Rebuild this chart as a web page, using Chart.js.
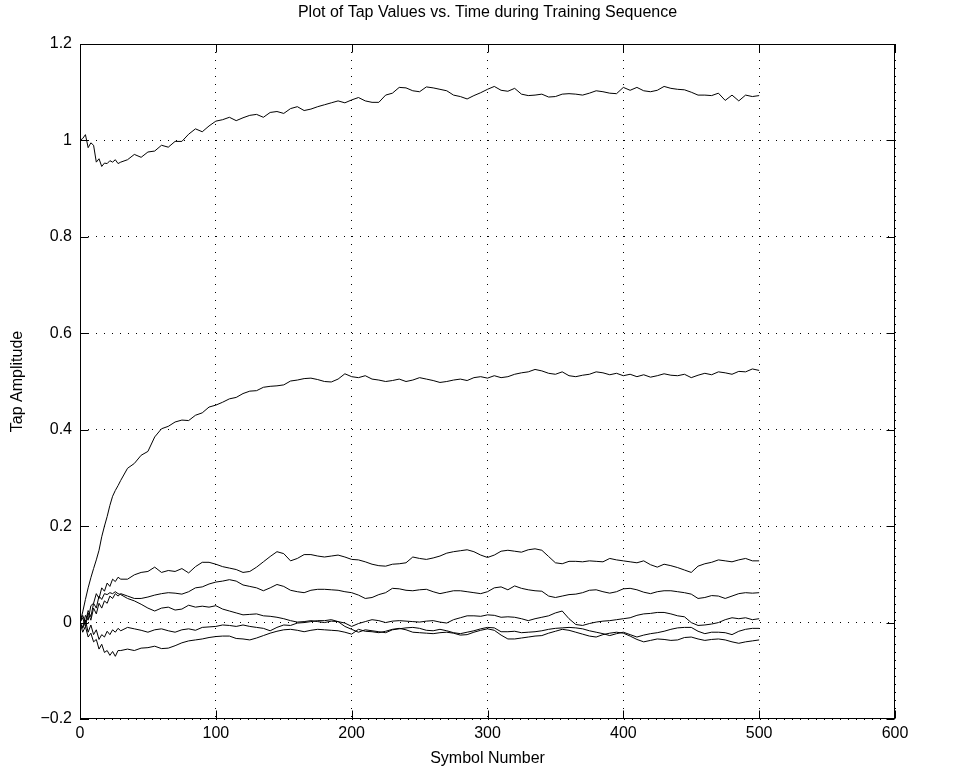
<!DOCTYPE html>
<html>
<head>
<meta charset="utf-8">
<script src="https://cdn.jsdelivr.net/npm/chart.js@4.4.0/dist/chart.umd.min.js"></script>
<style>
  html, body { margin: 0; padding: 0; background: #fff; }
  #wrap { width: 964px; height: 773px; }
</style>
</head>
<body>
<div id="wrap"><canvas id="graph" width="964" height="773"></canvas></div>
<script>
// symbol index of every stored sample (denser at the start where taps jump around)
const symbols = [0,2,4,6,8,10,12,14,16,18,20,22,24,26,28,30,35,40,45,50,55,60,65,70,75,80,85,90,95,
  100,105,110,115,120,125,130,135,140,145,150,155,160,165,170,175,180,185,190,195,
  200,205,210,215,220,225,230,235,240,245,250,255,260,265,270,275,280,285,290,295,
  300,305,310,315,320,325,330,335,340,345,350,355,360,365,370,375,380,385,390,395,
  400,405,410,415,420,425,430,435,440,445,450,455,460,465,470,475,480,485,490,495,500];

const xTicks = [0, 100, 200, 300, 400, 500, 600];
const yTicks = [-0.2, 0, 0.2, 0.4, 0.6, 0.8, 1, 1.2];

// tap values, one array per tap
const tap1 = [1.000,1.004,1.012,0.985,0.995,0.990,0.955,0.962,0.946,0.953,0.952,0.958,0.955,0.960,0.952,0.955,
  0.960,0.971,0.965,0.976,0.978,0.990,0.986,0.998,0.998,1.013,1.024,1.018,1.030,
  1.040,1.043,1.048,1.041,1.047,1.052,1.054,1.048,1.058,1.060,1.056,1.066,1.070,1.062,1.065,1.070,1.074,1.078,1.082,1.078,
  1.084,1.089,1.082,1.079,1.079,1.094,1.098,1.110,1.109,1.103,1.101,1.111,1.109,1.106,1.103,1.094,1.091,1.086,1.093,1.099,
  1.106,1.112,1.104,1.102,1.108,1.096,1.093,1.094,1.096,1.090,1.091,1.096,1.097,1.096,1.094,1.098,1.103,1.101,1.098,1.097,
  1.110,1.104,1.110,1.103,1.101,1.104,1.112,1.108,1.106,1.105,1.100,1.094,1.094,1.093,1.098,1.083,1.094,1.082,1.094,1.091,1.093];
const tap2 = [0.000,0.022,0.048,0.072,0.093,0.112,0.130,0.150,0.178,0.200,0.220,0.243,0.262,0.274,0.284,0.295,
  0.320,0.330,0.347,0.355,0.385,0.402,0.407,0.416,0.420,0.419,0.430,0.435,0.447,
  0.451,0.457,0.464,0.467,0.475,0.480,0.481,0.488,0.490,0.491,0.493,0.501,0.503,0.506,0.507,0.504,0.500,0.499,0.505,0.516,
  0.510,0.508,0.512,0.505,0.503,0.500,0.502,0.505,0.500,0.503,0.508,0.505,0.502,0.498,0.500,0.503,0.505,0.502,0.508,0.510,
  0.507,0.512,0.508,0.510,0.515,0.518,0.520,0.525,0.522,0.517,0.515,0.520,0.512,0.510,0.513,0.515,0.520,0.518,0.514,0.517,
  0.512,0.515,0.510,0.514,0.509,0.512,0.516,0.513,0.512,0.515,0.508,0.513,0.517,0.514,0.520,0.518,0.515,0.521,0.520,0.526,0.523];
const tap3 = [0.000,-0.010,0.015,0.005,0.035,0.040,0.060,0.050,0.072,0.065,0.082,0.075,0.090,0.085,0.094,0.090,
  0.090,0.099,0.104,0.106,0.115,0.104,0.108,0.106,0.112,0.103,0.116,0.125,0.125,
  0.121,0.116,0.113,0.110,0.104,0.106,0.115,0.126,0.137,0.147,0.143,0.128,0.133,0.141,0.141,0.138,0.136,0.138,0.140,0.136,
  0.131,0.130,0.126,0.121,0.118,0.117,0.121,0.122,0.124,0.136,0.133,0.131,0.134,0.138,0.144,0.147,0.149,0.151,0.147,0.140,
  0.135,0.140,0.148,0.150,0.148,0.146,0.151,0.153,0.150,0.137,0.124,0.122,0.127,0.127,0.126,0.128,0.127,0.126,0.133,0.130,
  0.128,0.126,0.124,0.128,0.120,0.115,0.121,0.118,0.114,0.109,0.104,0.117,0.122,0.125,0.130,0.128,0.126,0.130,0.133,0.128,0.128];
const tap4 = [0.000,0.010,-0.008,0.020,0.005,0.030,0.018,0.040,0.030,0.045,0.040,0.055,0.050,0.060,0.055,0.060,
  0.055,0.050,0.050,0.053,0.057,0.060,0.062,0.061,0.059,0.064,0.072,0.074,0.080,
  0.084,0.086,0.089,0.086,0.078,0.075,0.072,0.066,0.072,0.079,0.075,0.067,0.064,0.062,0.067,0.069,0.069,0.068,0.067,0.064,
  0.062,0.057,0.050,0.052,0.058,0.062,0.071,0.070,0.067,0.066,0.068,0.069,0.064,0.060,0.063,0.066,0.066,0.064,0.062,0.060,
  0.064,0.072,0.074,0.068,0.076,0.071,0.068,0.066,0.065,0.055,0.052,0.055,0.058,0.059,0.062,0.067,0.068,0.064,0.061,0.064,
  0.070,0.071,0.068,0.063,0.060,0.064,0.066,0.066,0.064,0.062,0.059,0.050,0.052,0.056,0.055,0.050,0.055,0.060,0.062,0.061,0.062];
const tap5 = [0.000,0.015,0.000,0.025,0.012,0.040,0.030,0.055,0.048,0.060,0.058,0.062,0.060,0.064,0.060,0.058,
  0.050,0.045,0.038,0.030,0.024,0.030,0.032,0.026,0.028,0.036,0.032,0.034,0.032,
  0.035,0.028,0.024,0.020,0.016,0.017,0.018,0.014,0.013,0.011,0.008,0.004,0.001,0.002,0.004,0.002,0.000,0.003,0.002,-0.001,
  -0.008,-0.002,0.002,0.006,0.004,0.000,0.003,0.004,0.003,0.002,0.001,0.003,0.004,0.001,-0.001,0.006,0.010,0.014,0.014,0.013,
  0.016,0.015,0.011,0.012,0.011,0.008,0.004,0.008,0.011,0.014,0.020,0.024,0.008,-0.004,-0.006,-0.002,0.001,0.003,0.004,0.006,
  0.008,0.010,0.015,0.018,0.019,0.021,0.021,0.018,0.014,0.012,0.000,-0.006,-0.005,-0.003,0.000,0.006,0.010,0.008,0.010,0.006,0.008];
const tap6 = [0.000,-0.012,0.005,-0.020,-0.005,-0.025,-0.015,-0.035,-0.025,-0.030,-0.018,-0.025,-0.015,-0.020,-0.012,-0.017,
  -0.010,-0.013,-0.016,-0.020,-0.015,-0.013,-0.017,-0.020,-0.015,-0.013,-0.016,-0.010,-0.009,
  -0.008,-0.005,-0.006,-0.008,-0.005,-0.008,-0.010,-0.012,-0.017,-0.010,-0.005,-0.006,-0.001,0.000,0.002,0.004,0.004,0.006,0.002,-0.008,
  -0.014,-0.020,-0.015,-0.017,-0.019,-0.021,-0.015,-0.013,-0.011,-0.010,-0.012,-0.016,-0.017,-0.014,-0.017,-0.021,-0.023,-0.020,-0.017,-0.013,
  -0.010,-0.011,-0.019,-0.019,-0.018,-0.021,-0.020,-0.019,-0.017,-0.014,-0.012,-0.011,-0.010,-0.011,-0.013,-0.017,-0.020,-0.023,-0.027,-0.023,
  -0.020,-0.025,-0.030,-0.026,-0.023,-0.021,-0.018,-0.014,-0.011,-0.010,-0.010,-0.018,-0.023,-0.020,-0.020,-0.021,-0.025,-0.018,-0.014,-0.012,-0.012];
const tap7 = [0.000,-0.020,-0.008,-0.030,-0.022,-0.040,-0.035,-0.055,-0.045,-0.062,-0.058,-0.068,-0.060,-0.070,-0.058,-0.058,
  -0.055,-0.058,-0.053,-0.052,-0.049,-0.054,-0.053,-0.048,-0.042,-0.038,-0.036,-0.034,-0.031,
  -0.029,-0.028,-0.028,-0.033,-0.034,-0.036,-0.032,-0.027,-0.022,-0.018,-0.015,-0.014,-0.016,-0.019,-0.016,-0.014,-0.015,-0.016,-0.017,-0.020,
  -0.024,-0.014,-0.018,-0.019,-0.021,-0.018,-0.014,-0.012,-0.015,-0.020,-0.021,-0.022,-0.023,-0.021,-0.020,-0.022,-0.026,-0.025,-0.020,-0.016,
  -0.013,-0.016,-0.026,-0.034,-0.034,-0.032,-0.030,-0.028,-0.027,-0.022,-0.018,-0.014,-0.016,-0.020,-0.024,-0.028,-0.030,-0.025,-0.022,-0.020,
  -0.022,-0.028,-0.035,-0.040,-0.037,-0.034,-0.035,-0.037,-0.036,-0.031,-0.030,-0.034,-0.037,-0.035,-0.034,-0.036,-0.040,-0.043,-0.040,-0.038,-0.036];

const taps = [tap1, tap2, tap3, tap4, tap5, tap6, tap7];
const titleText = 'Plot of Tap Values vs. Time during Training Sequence';
const fontFamily = "'Liberation Sans', Arial, Helvetica, sans-serif";
const fontSize = 16;
const tickLen = 8;

// matlab style box with inward ticks on all four sides, title centred over the axes
const boxTicks = {
  id: 'boxTicks',
  afterDatasetsDraw(chart) {
    const { ctx, chartArea: a, scales: { x, y } } = chart;
    const l = Math.round(a.left) + 0.5, r = Math.round(a.right) - 0.5;
    const t = Math.round(a.top) + 0.5, b = Math.round(a.bottom) - 0.5;
    ctx.save();
    ctx.strokeStyle = '#000';
    ctx.lineWidth = 1;
    ctx.beginPath();
    xTicks.forEach(v => {
      const px = Math.round(x.getPixelForValue(v)) + 0.5;
      ctx.moveTo(px, b); ctx.lineTo(px, b - tickLen);
      ctx.moveTo(px, t); ctx.lineTo(px, t + tickLen);
    });
    yTicks.forEach(v => {
      const py = Math.round(y.getPixelForValue(v)) + 0.5;
      ctx.moveTo(l, py); ctx.lineTo(l + tickLen, py);
      ctx.moveTo(r, py); ctx.lineTo(r - tickLen, py);
    });
    ctx.stroke();
    ctx.strokeRect(l, t, r - l, b - t);

    ctx.fillStyle = '#000';
    ctx.font = fontSize + 'px ' + fontFamily;
    ctx.textAlign = 'center';
    ctx.textBaseline = 'middle';
    ctx.fillText(titleText, (a.left + a.right) / 2, 13);
    ctx.restore();
  }
};

const ctx = document.getElementById('graph').getContext('2d');
new Chart(ctx, {
  type: 'line',
  data: {
    datasets: taps.map((vals, i) => ({
      label: 'Tap ' + (i + 1),
      data: vals.map((v, k) => ({ x: symbols[k], y: v })),
      borderColor: '#000',
      borderWidth: 1,
      pointRadius: 0,
      fill: false,
      tension: 0
    }))
  },
  options: {
    responsive: false,
    animation: false,
    devicePixelRatio: 1,
    layout: { padding: { left: 0, right: 69, top: 44, bottom: 0 } },
    plugins: {
      legend: { display: false },
      tooltip: { enabled: false },
      title: { display: false }
    },
    scales: {
      x: {
        type: 'linear',
        min: 0, max: 600,
        afterFit(s) { s.height = 54; },
        afterBuildTicks(s) { s.ticks = xTicks.map(v => ({ value: v })); },
        ticks: { color: '#000', font: { family: fontFamily, size: fontSize }, padding: 5, maxRotation: 0 },
        grid: { color: '#000', lineWidth: 1, drawTicks: false },
        border: { display: false, dash: [1, 7] },
        title: { display: true, text: 'Symbol Number', color: '#000', font: { family: fontFamily, size: fontSize }, padding: { top: 0, bottom: 5 } }
      },
      y: {
        min: -0.2, max: 1.2,
        afterFit(s) { s.width = 80; },
        afterBuildTicks(s) { s.ticks = yTicks.map(v => ({ value: v })); },
        ticks: {
          color: '#000', font: { family: fontFamily, size: fontSize }, padding: 8,
          callback: v => String(Number(v.toFixed(1))).replace('-', '\u2212')
        },
        grid: { color: '#000', lineWidth: 1, drawTicks: false },
        border: { display: false, dash: [1, 7] },
        title: { display: true, text: 'Tap Amplitude', color: '#000', font: { family: fontFamily, size: fontSize }, padding: { top: 8, bottom: 0 } }
      }
    }
  },
  plugins: [boxTicks]
});
</script>
</body>
</html>
